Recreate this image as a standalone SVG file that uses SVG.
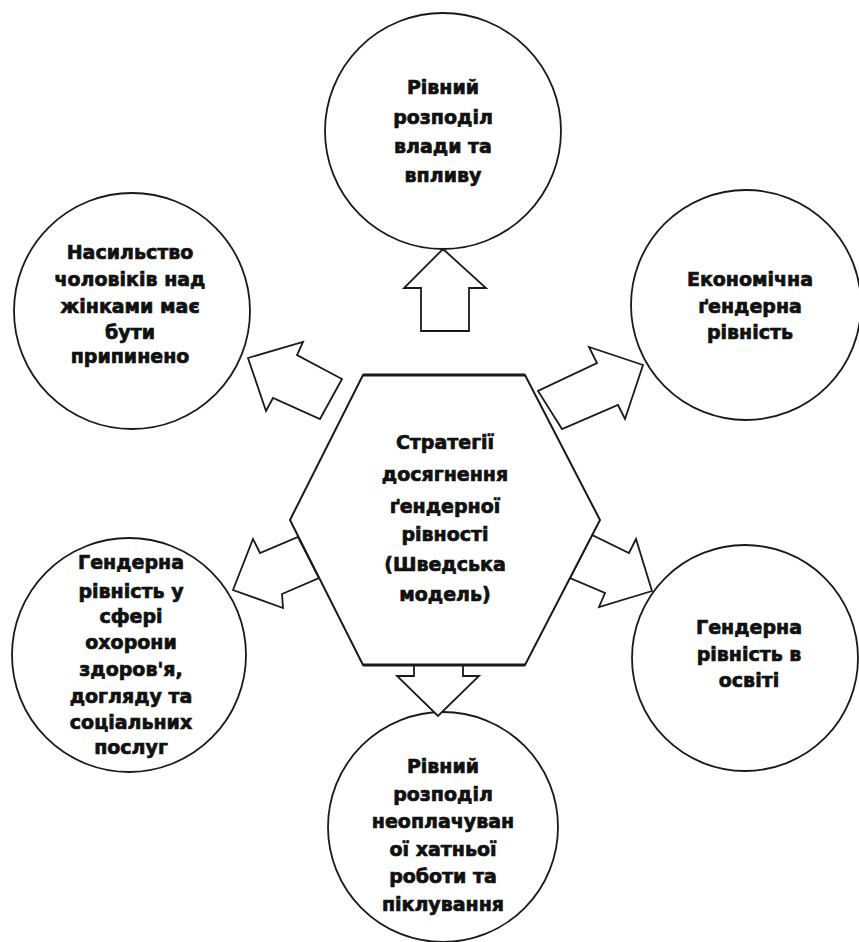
<svg xmlns="http://www.w3.org/2000/svg" width="859" height="942" viewBox="0 0 859 942">
<style>
.c{fill:#fff;stroke:#1a1a1a;stroke-width:1.8}
.a{fill:#fff;stroke:#1a1a1a;stroke-width:1.8;stroke-linejoin:miter}
.h{fill:#fff;stroke:#1a1a1a;stroke-width:2}
.e{stroke:#1a1a1a;stroke-width:3;fill:none}
text{font-family:"DejaVu Sans",sans-serif;font-weight:bold;font-size:19px;fill:#111;stroke:#111;stroke-width:0.7;text-anchor:middle}
</style>
<rect width="859" height="942" fill="#fff"/>
<g id="node-top">
<circle class="c" cx="443" cy="131" r="118"/>
<text x="443" y="94">Рівний</text>
<text x="443" y="124">розподіл</text>
<text x="443" y="153">влади та</text>
<text x="443" y="182">впливу</text>
</g>
<g id="node-upper-left">
<circle class="c" cx="132" cy="311" r="118"/>
<text x="130" y="259">Насильство</text>
<text x="130" y="286">чоловіків над</text>
<text x="130" y="313">жінками має</text>
<text x="130" y="339">бути</text>
<text x="130" y="363">припинено</text>
</g>
<g id="node-upper-right">
<circle class="c" cx="746" cy="305" r="115"/>
<text x="750" y="286">Економічна</text>
<text x="750" y="313">ґендерна</text>
<text x="750" y="339">рівність</text>
</g>
<g id="node-lower-left">
<circle class="c" cx="129" cy="655" r="117"/>
<text x="131" y="569">Гендерна</text>
<text x="131" y="598">рівність у</text>
<text x="131" y="623">сфері</text>
<text x="131" y="649">охорони</text>
<text x="131" y="676">здоров'я,</text>
<text x="131" y="703">догляду та</text>
<text x="131" y="729">соціальних</text>
<text x="131" y="754">послуг</text>
</g>
<g id="node-lower-right">
<circle class="c" cx="745" cy="658" r="113"/>
<text x="749" y="634">Гендерна</text>
<text x="749" y="661">рівність в</text>
<text x="749" y="687">освіті</text>
</g>
<g id="node-bottom">
<circle class="c" cx="443" cy="827" r="115"/>
<text x="443" y="773">Рівний</text>
<text x="443" y="801">розподіл</text>
<text x="443" y="828">неоплачуван</text>
<text x="443" y="856">ої хатньої</text>
<text x="443" y="883">роботи та</text>
<text x="443" y="911">піклування</text>
</g>
<g id="connectors">
<polygon class="a" points="443,249 486,288 469,288 469,331 421,331 421,288 404,288"/>
<polygon class="a" points="248,358 303,342 297,355 342,379 320,419 273,398 266,411"/>
<polygon class="a" points="643,365 589,347 597,363 538,391 562,429 618,405 625,419"/>
<polygon class="a" points="233,590 253,539 260,553 298,537 319,578 282,594 283,608"/>
<polygon class="a" points="652,591 636,539 629,553 592,535 570,578 605,593 599,607"/>
<polygon class="a" points="414,665 463,665 463,676 479,676 438,716 397,676 414,676"/>
</g>
<g id="node-center">
<polygon class="h" points="363,375 525,375 600,520 525,665 363,665 290,520"/>
<line class="e" x1="363" y1="375" x2="525" y2="375"/>
<line class="e" x1="363" y1="665" x2="525" y2="665"/>
<text x="445" y="449">Стратегії</text>
<text x="445" y="481">досягнення</text>
<text x="445" y="513">ґендерної</text>
<text x="445" y="541">рівності</text>
<text x="445" y="571">(Шведська</text>
<text x="445" y="601">модель)</text>
</g>
</svg>
